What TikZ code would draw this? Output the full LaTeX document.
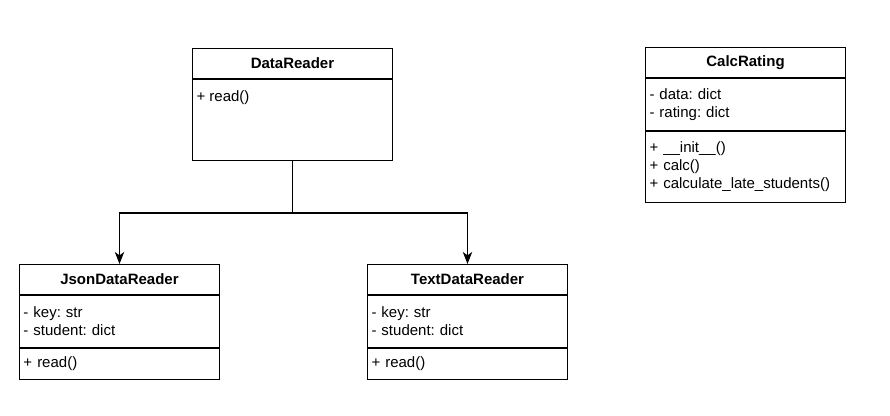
\documentclass[tikz,border=0pt]{standalone}
\usepackage{fontspec}
\setmainfont{Liberation Sans}
\usetikzlibrary{positioning, arrows.meta}

\tikzset{
  classhead/.style={draw, anchor=north west, minimum width=150pt, minimum height=22.5pt,
    inner sep=0pt, font=\bfseries\fontsize{11.25}{13.5}\selectfont},
  classpart/.style={draw, text width=144pt, inner xsep=3pt, inner ysep=0pt, align=left,
    font=\frenchspacing\fontsize{11.25}{13.5}\selectfont},
  membertext/.style={inner xsep=3pt, inner ysep=0pt, font=\frenchspacing\fontsize{11.25}{13.5}\selectfont},
  inherit/.style={-{Stealth[length=9pt, width=7pt, inset=2.5pt]}, line width=1pt}
}

\begin{document}
\begin{tikzpicture}[x=0.75pt, y=-0.75pt, line width=0.75pt]
  \useasboundingbox (0,0) rectangle (890,415);

  \node[classhead] (readerhead) at (192,48) {DataReader};
  \node[classpart, minimum height=60.75pt, below=0pt of readerhead] (readerbody) {};
  \node[membertext, anchor=west] (readerop) at ([yshift=-14.25pt]readerbody.north west) {+ read()};

  \node[classhead] (calchead) at (645,47) {CalcRating};
  \node[classpart, minimum height=39pt, below=0pt of calchead] (calcattr) {- data: dict\\- rating: dict};
  \node[classpart, minimum height=53pt, below=0pt of calcattr] (calcops)
    {+ \_\_init\_\_()\\+ calc()\\+ calculate\_late\_students()};

  \node[classhead] (jsonhead) at (19,264) {JsonDataReader};
  \node[classpart, minimum height=39pt, below=0pt of jsonhead] (jsonattr) {- key: str\\- student: dict};
  \node[classpart, minimum height=23.25pt, below=0pt of jsonattr] (jsonops) {+ read()};

  \node[classhead] (texthead) at (367,264) {TextDataReader};
  \node[classpart, minimum height=39pt, below=0pt of texthead] (textattr) {- key: str\\- student: dict};
  \node[classpart, minimum height=23.25pt, below=0pt of textattr] (textops) {+ read()};

  \coordinate (split) at ([yshift=-39pt]readerbody.south);
  \draw[inherit] (readerbody.south) -- (split) -| (jsonhead.north);
  \draw[inherit] (split) -| (texthead.north);
\end{tikzpicture}
\end{document}
